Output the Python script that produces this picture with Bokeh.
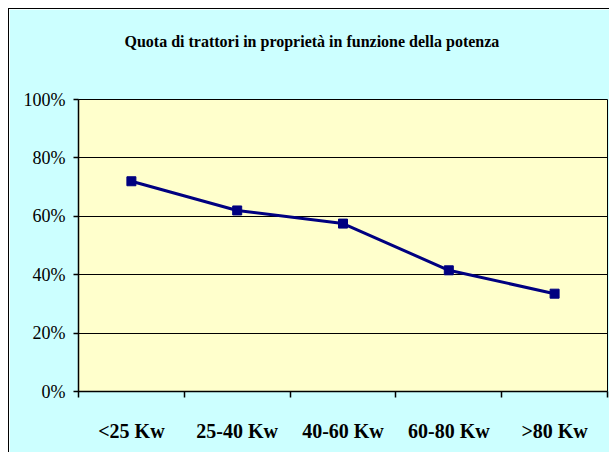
from bokeh.plotting import figure
from bokeh.models import FixedTicker, NumeralTickFormatter, Range1d, ColumnDataSource, Title
from bokeh.embed import file_html
from bokeh.resources import INLINE

title = "Quota di trattori in proprietà in funzione della potenza"
categories = ["<25 Kw", "25-40 Kw", "40-60 Kw", "60-80 Kw", ">80 Kw"]
quota = [0.72, 0.62, 0.575, 0.415, 0.335]
y_ticks = [0, 0.2, 0.4, 0.6, 0.8, 1.0]

xpos = [i + 0.5 for i in range(len(categories))]
src = ColumnDataSource(dict(x=xpos, y=quota))

p = figure(width=601, height=444, output_backend="svg", toolbar_location=None,
           x_range=Range1d(0, len(categories)), y_range=Range1d(0, 1),
           min_border_left=69, min_border_right=3, min_border_top=90, min_border_bottom=62)

p.background_fill_color = "#FFFFCC"
p.border_fill_color = "#CCFFFF"
p.outline_line_color = "black"
p.outline_line_width = 1
p.styles = {"margin-left": "8px", "margin-top": "8px",
            "border-left": "1px solid black", "border-top": "1px solid black"}

p.title.text = title
p.title.text_font = "Liberation Serif"
p.title.text_font_size = "16px"
p.title.text_font_style = "bold"
p.title.text_color = "black"
p.title.align = "left"
p.title.offset = 46
p.title.vertical_align = "top"
p.title.standoff = 45

# invisible spacer between frame and title
p.add_layout(Title(text=" ", text_font_size="1px", standoff=22), "above")

p.line("x", "y", source=src, line_color="#000080", line_width=3)
p.scatter("x", "y", source=src, marker="square", size=9, fill_color="#000080", line_color="#000080")

# x axis
p.xaxis.ticker = FixedTicker(ticks=xpos, minor_ticks=list(range(len(categories) + 1)))
p.xaxis.major_label_overrides = {x: c for x, c in zip(xpos, categories)}
p.xaxis.major_tick_out = 0
p.xaxis.major_tick_in = 0
p.xaxis.minor_tick_out = 6
p.xaxis.minor_tick_in = 0
p.xaxis.minor_tick_line_color = "black"
p.xaxis.minor_tick_line_width = 1.5
p.xaxis.axis_line_color = "black"
p.xaxis.axis_line_width = 1.5
p.xaxis.major_label_text_font = "Liberation Serif"
p.xaxis.major_label_text_font_style = "bold"
p.xaxis.major_label_text_font_size = "20px"
p.xaxis.major_label_text_color = "black"
p.xaxis.major_label_standoff = 22

# y axis
p.yaxis.ticker = FixedTicker(ticks=y_ticks, minor_ticks=[])
p.yaxis.formatter = NumeralTickFormatter(format="0%")
p.yaxis.major_tick_out = 5
p.yaxis.major_tick_in = 0
p.yaxis.major_tick_line_color = "black"
p.yaxis.major_tick_line_width = 1.5
p.yaxis.minor_tick_line_color = None
p.yaxis.axis_line_color = "black"
p.yaxis.axis_line_width = 1.5
p.yaxis.major_label_text_font = "Liberation Serif"
p.yaxis.major_label_text_font_size = "18px"
p.yaxis.major_label_text_color = "black"
p.yaxis.major_label_standoff = 8

p.xgrid.grid_line_color = None
p.ygrid.grid_line_color = "black"
p.ygrid.grid_line_width = 1.2
p.ygrid.grid_line_alpha = 1.0

open("out.html", "w").write(file_html(p, INLINE))
